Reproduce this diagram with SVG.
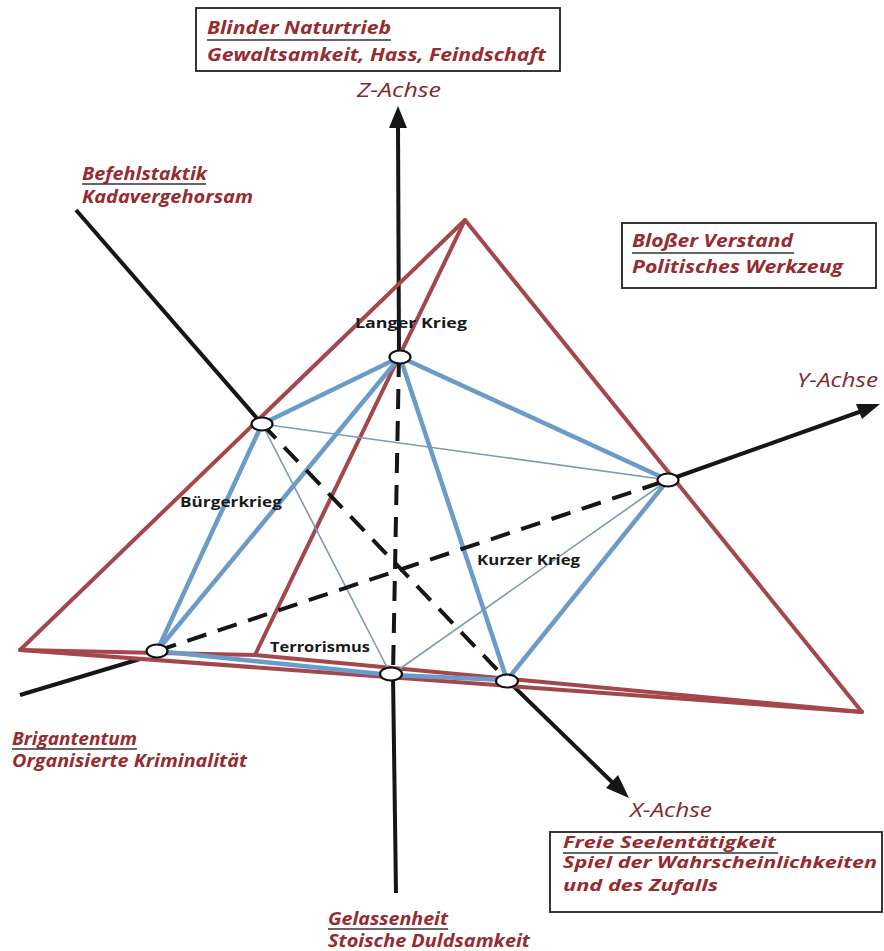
<svg xmlns="http://www.w3.org/2000/svg" width="884" height="951" viewBox="0 0 884 951">
<style>
.red{fill:none;stroke:#a4474c;stroke-width:4;stroke-linejoin:round;stroke-linecap:round}
.blue{fill:none;stroke:#6b9bc9;stroke-width:4.5;stroke-linecap:round}
.thin{fill:none;stroke:#7d9aaf;stroke-width:1.6}
.axis{fill:none;stroke:#161616;stroke-width:4}
.dash{fill:none;stroke:#161616;stroke-width:4;stroke-dasharray:20 12}
.head{fill:#161616}
.node{fill:#fff;stroke:#111;stroke-width:2.2}
.lbl{font-family:"Open Sans","Liberation Sans",sans-serif;font-weight:bold;font-style:italic;fill:#962b30;font-size:18px}
.sm{font-size:16px}
.ax{font-family:"Open Sans","Liberation Sans",sans-serif;font-style:italic;fill:#7e2a2e;font-size:20px}
.nl{font-family:"Open Sans","Liberation Sans",sans-serif;font-weight:bold;fill:#1a1a1a;font-size:14px}
.ul{stroke:#333;stroke-width:1.5}
.box{fill:#fff;stroke:#222;stroke-width:1.8}
</style>
<rect width="884" height="951" fill="#fff"/>

<g id="connectors">
  <!-- black axes, solid parts -->
  <line class="axis" x1="398" y1="124" x2="399" y2="357"/>
  <line class="axis" x1="393" y1="675" x2="396" y2="893"/>
  <line class="axis" x1="76" y1="210" x2="262" y2="424"/>
  <line class="axis" x1="507" y1="680" x2="614" y2="784"/>
  <line class="axis" x1="20" y1="695" x2="140" y2="659"/>
  <line class="axis" x1="668" y1="480" x2="862" y2="411"/>
  <polygon class="head" points="398,106 389,128 407,128"/>
  <polygon class="head" points="880,404 862,419 856,404"/>
  <polygon class="head" points="629,798 606,788 618,775"/>
  <!-- red pyramid -->
  <polygon class="red" points="20,650 465,220 862,712"/>
  <polyline class="red" points="465,220 255,655"/>
  <polyline class="red" points="20,650 255,655 862,712"/>
  <!-- thin lines -->
  <line class="thin" x1="262" y1="424" x2="668" y2="480"/>
  <line class="thin" x1="262" y1="424" x2="391" y2="675"/>
  <line class="thin" x1="391" y1="675" x2="668" y2="480"/>
  <!-- blue lines -->
  <line class="blue" x1="262" y1="424" x2="400" y2="357"/>
  <line class="blue" x1="400" y1="357" x2="668" y2="480"/>
  <line class="blue" x1="400" y1="357" x2="157" y2="651"/>
  <line class="blue" x1="400" y1="357" x2="507" y2="680"/>
  <line class="blue" x1="262" y1="424" x2="157" y2="651"/>
  <line class="blue" x1="668" y1="480" x2="507" y2="680"/>
  <polyline class="blue" points="157,651 391,675 507,680"/>
  <!-- dashed hidden axes -->
  <line class="dash" x1="399" y1="357" x2="393" y2="675"/>
  <line class="dash" x1="262" y1="424" x2="507" y2="680"/>
  <line class="dash" x1="157" y1="651" x2="668" y2="480"/>
</g>

<g id="node-langer-krieg">
  <ellipse class="node" cx="400" cy="357" rx="10.5" ry="6.5"/>
  <text class="nl" x="355" y="328" textLength="112" lengthAdjust="spacingAndGlyphs">Langer Krieg</text>
</g>
<g id="node-buergerkrieg">
  <ellipse class="node" cx="262" cy="424" rx="10.5" ry="6.5"/>
  <text class="nl" x="180" y="507" textLength="102" lengthAdjust="spacingAndGlyphs">Bürgerkrieg</text>
</g>
<g id="node-kurzer-krieg">
  <ellipse class="node" cx="668" cy="480" rx="10.5" ry="6.5"/>
  <text class="nl" x="477" y="565" textLength="103" lengthAdjust="spacingAndGlyphs">Kurzer Krieg</text>
</g>
<g id="node-bl">
  <ellipse class="node" cx="157" cy="651" rx="10.5" ry="6.5"/>
</g>
<g id="node-terrorismus">
  <ellipse class="node" cx="391" cy="674" rx="11" ry="6.5"/>
  <text class="nl" x="270" y="652" textLength="100" lengthAdjust="spacingAndGlyphs">Terrorismus</text>
</g>
<g id="node-br">
  <ellipse class="node" cx="507" cy="681" rx="11" ry="6.5"/>
</g>

<g id="label-z">
  <rect class="box" x="196" y="8" width="364" height="63"/>
  <text class="lbl" x="207" y="34" textLength="184" lengthAdjust="spacingAndGlyphs">Blinder Naturtrieb</text>
  <line class="ul" x1="207" y1="40" x2="391" y2="40"/>
  <text class="lbl" x="207" y="61" textLength="339" lengthAdjust="spacingAndGlyphs">Gewaltsamkeit, Hass, Feindschaft</text>
  <text class="ax" x="357" y="97" textLength="84" lengthAdjust="spacingAndGlyphs">Z-Achse</text>
</g>
<g id="label-x-top">
  <text class="lbl" x="82" y="180" textLength="125" lengthAdjust="spacingAndGlyphs">Befehlstaktik</text>
  <line class="ul" x1="82" y1="184" x2="206" y2="184"/>
  <text class="lbl" x="82" y="203" textLength="171" lengthAdjust="spacingAndGlyphs">Kadavergehorsam</text>
</g>
<g id="label-y">
  <rect class="box" x="622" y="223" width="254" height="65"/>
  <text class="lbl" x="632" y="247" textLength="161" lengthAdjust="spacingAndGlyphs">Bloßer Verstand</text>
  <line class="ul" x1="632" y1="253" x2="794" y2="253"/>
  <text class="lbl" x="632" y="273" textLength="211" lengthAdjust="spacingAndGlyphs">Politisches Werkzeug</text>
  <text class="ax" x="797" y="387" textLength="81" lengthAdjust="spacingAndGlyphs">Y-Achse</text>
</g>
<g id="label-y-left">
  <text class="lbl" x="12" y="745" textLength="125" lengthAdjust="spacingAndGlyphs">Brigantentum</text>
  <line class="ul" x1="12" y1="749" x2="137" y2="749"/>
  <text class="lbl" x="12" y="767" textLength="235" lengthAdjust="spacingAndGlyphs">Organisierte Kriminalität</text>
</g>
<g id="label-x">
  <text class="ax" x="630" y="817" textLength="82" lengthAdjust="spacingAndGlyphs">X-Achse</text>
  <rect class="box" x="550" y="832" width="332" height="80"/>
  <text class="lbl sm" x="563" y="848" textLength="213" lengthAdjust="spacingAndGlyphs">Freie Seelentätigkeit</text>
  <line class="ul" x1="563" y1="853" x2="778" y2="853"/>
  <text class="lbl sm" x="563" y="868" textLength="314" lengthAdjust="spacingAndGlyphs">Spiel der Wahrscheinlichkeiten</text>
  <text class="lbl sm" x="563" y="891" textLength="155" lengthAdjust="spacingAndGlyphs">und des Zufalls</text>
</g>
<g id="label-z-bottom">
  <text class="lbl" x="328" y="925" textLength="120" lengthAdjust="spacingAndGlyphs">Gelassenheit</text>
  <line class="ul" x1="328" y1="929" x2="448" y2="929"/>
  <text class="lbl" x="328" y="947" textLength="202" lengthAdjust="spacingAndGlyphs">Stoische Duldsamkeit</text>
</g>
</svg>
